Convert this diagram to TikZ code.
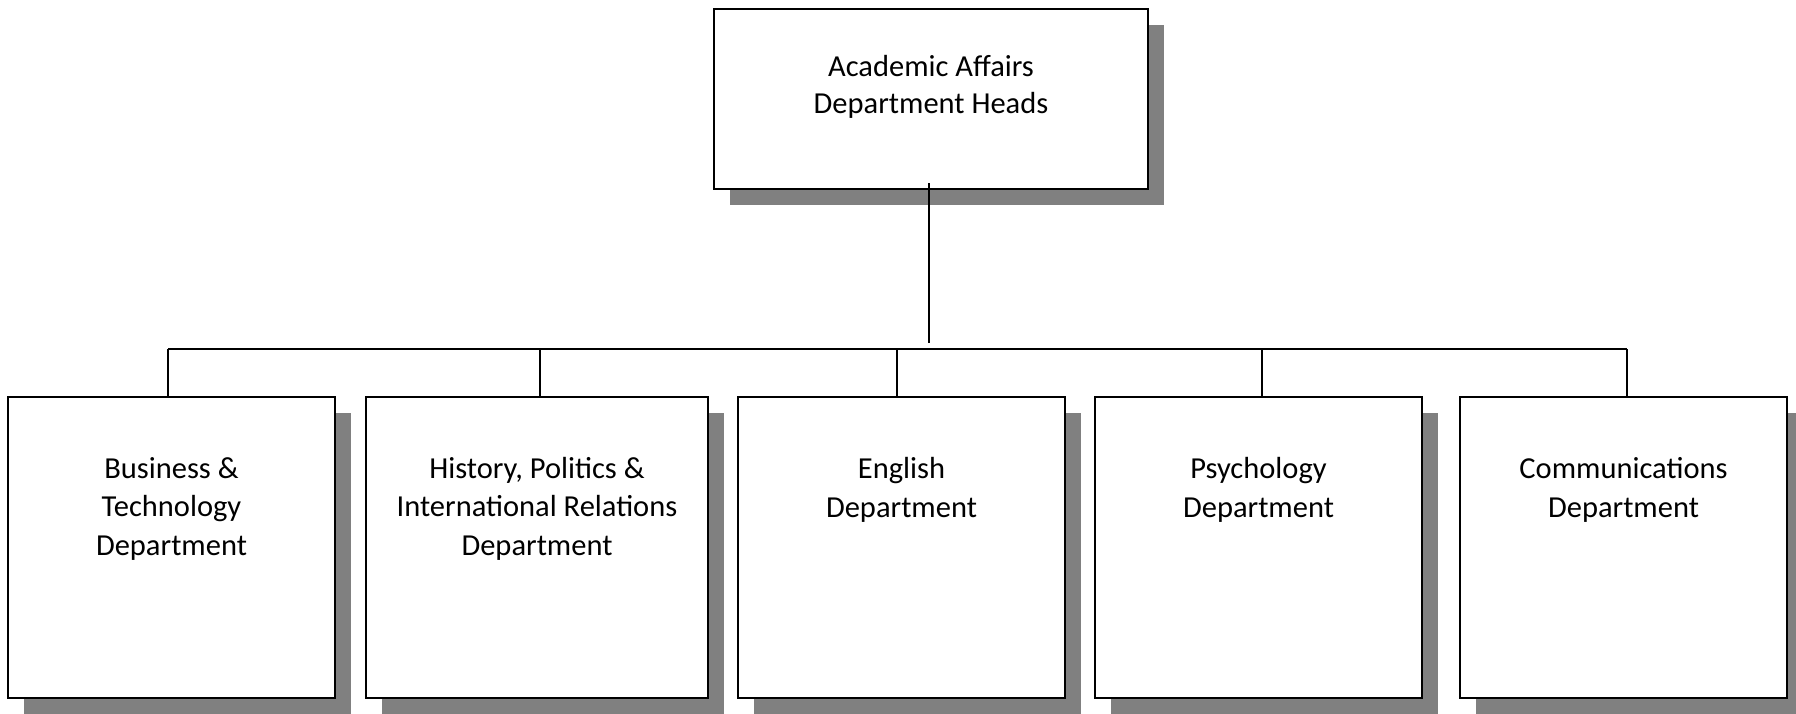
\documentclass[tikz,border=0pt]{standalone}
\usepackage{fontspec}
\setmainfont{Carlito}
\usetikzlibrary{shadows}
\definecolor{shadowgray}{HTML}{808080}
\begin{document}
\begin{tikzpicture}[x=1pt,y=-1pt,
  box/.style={draw=black, line width=1.7pt, fill=white, inner sep=0pt,
    general shadow={fill=shadowgray, draw=none, shadow xshift=16pt, shadow yshift=-16pt}},
  deptbox/.style={box, minimum width=327pt, minimum height=301pt},
  conn/.style={draw=black, line width=1.5pt},
  toptxt/.style={anchor=base, align=center, inner sep=0pt, font=\fontsize{30.5}{37}\selectfont},
  depttxt/.style={anchor=base, align=center, inner sep=0pt, font=\fontsize{30.5}{38.7}\selectfont}]
\useasboundingbox (0,0) rectangle (1796,713);
% boxes
\node[box, minimum width=434pt, minimum height=180pt] (top) at (931,99) {};
\node[deptbox] (b1) at (171.5,547.5) {};
\node[deptbox, minimum width=342pt] (b2) at (537,547.5) {};
\node[deptbox] (b3) at (901.5,547.5) {};
\node[deptbox] (b4) at (1258.5,547.5) {};
\node[deptbox] (b5) at (1623.5,547.5) {};
% texts (anchored at the baseline of the last line)
\node[toptxt] (t0) at (931,113) {Academic Affairs\\Department Heads};
\node[depttxt] (t1) at (171.5,555.5) {Business \&\\Technology\\Department};
\node[depttxt] (t2) at (537,555.5) {History, Politics \&\\International Relations\\Department};
\node[depttxt] (t3) at (901.5,517) {English\\Department};
\node[depttxt] (t4) at (1258.5,517) {Psychology\\Department};
\node[depttxt] (t5) at (1623.5,517) {Communications\\Department};
% connectors
\coordinate (topstart) at (929,183);
\coordinate (topfoot) at (929,343);
\coordinate (j1) at (168,349);
\coordinate (j2) at (540,349);
\coordinate (j3) at (897,349);
\coordinate (j4) at (1262,349);
\coordinate (j5) at (1627,349);
\draw[conn] (topstart) -- (topfoot);
\draw[conn] (j1) -- (j5);
\draw[conn] (j1) -- (j1 |- b1.north);
\draw[conn] (j2) -- (j2 |- b2.north);
\draw[conn] (j3) -- (j3 |- b3.north);
\draw[conn] (j4) -- (j4 |- b4.north);
\draw[conn] (j5) -- (j5 |- b5.north);
\end{tikzpicture}
\end{document}
